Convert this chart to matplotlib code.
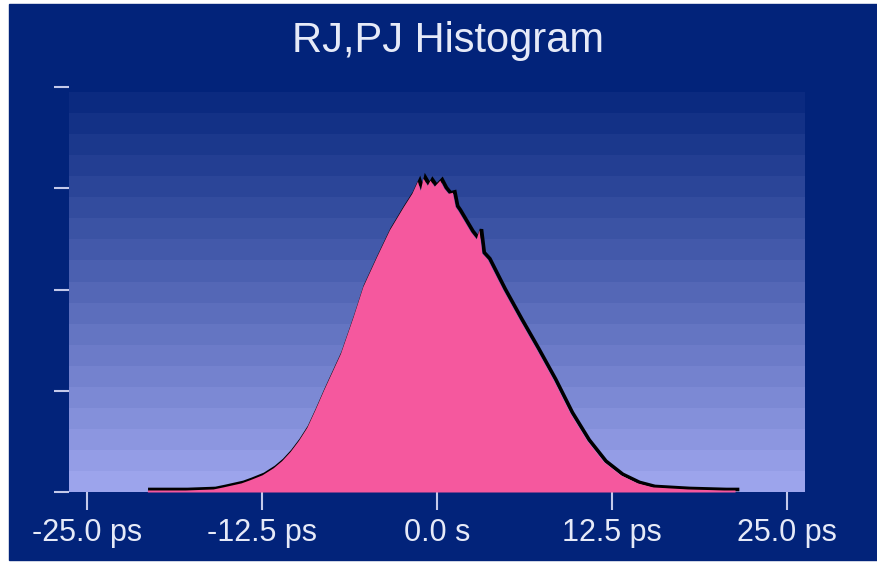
import numpy as np
import matplotlib
matplotlib.use('Agg')
import matplotlib.pyplot as plt
import matplotlib.transforms as mtransforms
from matplotlib.colors import to_rgb

# histogram outline (time in ps, relative height)
t_ps = [-20.7, -20.0, -18.0, -16.0, -15.3, -14.0, -13.4, -12.5, -11.7, -11.1,
        -10.5, -9.9, -9.3, -8.7, -8.1, -7.5, -6.9, -6.0, -5.3, -4.3,
        -3.4, -2.4, -1.8, -1.4, -1.2, -1.0, -0.7, -0.5, -0.2, 0.2,
        0.5, 0.8, 1.1, 1.3, 1.5, 2.4, 2.8, 3.0, 3.2, 3.6,
        4.7, 5.9, 7.1, 8.3, 9.5, 10.7, 11.9, 13.1, 14.3, 15.4,
        17.9, 20.5, 21.3]
counts = [0.02, 0.02, 0.02, 0.03, 0.05, 0.09, 0.12, 0.17, 0.24, 0.31,
          0.40, 0.51, 0.64, 0.82, 1.01, 1.19, 1.37, 1.73, 2.03, 2.33,
          2.59, 2.82, 2.95, 3.07, 2.98, 3.10, 3.03, 3.08, 3.02, 3.08,
          3.00, 2.95, 2.96, 2.82, 2.78, 2.57, 2.50, 2.59, 2.36, 2.30,
          2.00, 1.70, 1.41, 1.11, 0.78, 0.51, 0.30, 0.17, 0.09, 0.05,
          0.03, 0.02, 0.02]

xticks = [-25.0, -12.5, 0.0, 12.5, 25.0]
xtick_labels = ['-25.0 ps', '-12.5 ps', '0.0 s', '12.5 ps', '25.0 ps']
yticks = [0, 1, 2, 3, 4]

bg = '#02237a'
text_col = '#e6eaf8'
tick_col = '#c4c9ea'
font = ['Liberation Sans', 'DejaVu Sans']

fig = plt.figure(figsize=(8.77, 5.64), dpi=100, facecolor='white')
# blue panel with a thin white margin left/top/bottom
fig.patches.append(plt.Rectangle((9 / 877, 4 / 564), 1, 556 / 564,
                                 transform=fig.transFigure, color=bg, zorder=-5))

ax = fig.add_axes([69 / 877, 72 / 564, 736 / 877, 405 / 564])
ax.set_facecolor(bg)
ax.set_xlim(-26.3, 26.3)
ax.set_ylim(0, 4.0)

# banded gradient background
n_bands = 19
top_c = np.array(to_rgb('#0b2a80'))
bot_c = np.array(to_rgb('#9ca4ec'))
edges = np.linspace(0, 3.95, n_bands + 1)
for i in range(n_bands):
    f = i / (n_bands - 1)
    c = bot_c * (1 - f) + top_c * f
    ax.axhspan(edges[i], edges[i + 1], color=c, lw=0, zorder=0)

# black shadow outline, then pink fill on top
shadow = mtransforms.offset_copy(ax.transData, fig=fig, x=2.5, y=0.5, units='dots')
ax.plot(t_ps, counts, color='black', lw=2.6, transform=shadow, zorder=2,
        solid_joinstyle='miter')
ax.fill_between(t_ps, 0, counts, color='#f5589e', lw=0, zorder=3)

for s in ax.spines.values():
    s.set_visible(False)

ax.set_xticks(xticks)
ax.set_xticklabels(xtick_labels, family=font, fontsize=22, color=text_col)
ax.set_yticks(yticks)
ax.set_yticklabels([])
ax.tick_params(axis='x', direction='out', length=13, width=1.5, color=tick_col, pad=6)
ax.tick_params(axis='y', direction='out', length=11, width=1.5, color=tick_col)

fig.text(448 / 877, 1 - 41 / 564, 'RJ,PJ Histogram', family=font, fontsize=30,
         color=text_col, ha='center', va='center')

fig.savefig('out.png', dpi=100, facecolor=fig.get_facecolor())
